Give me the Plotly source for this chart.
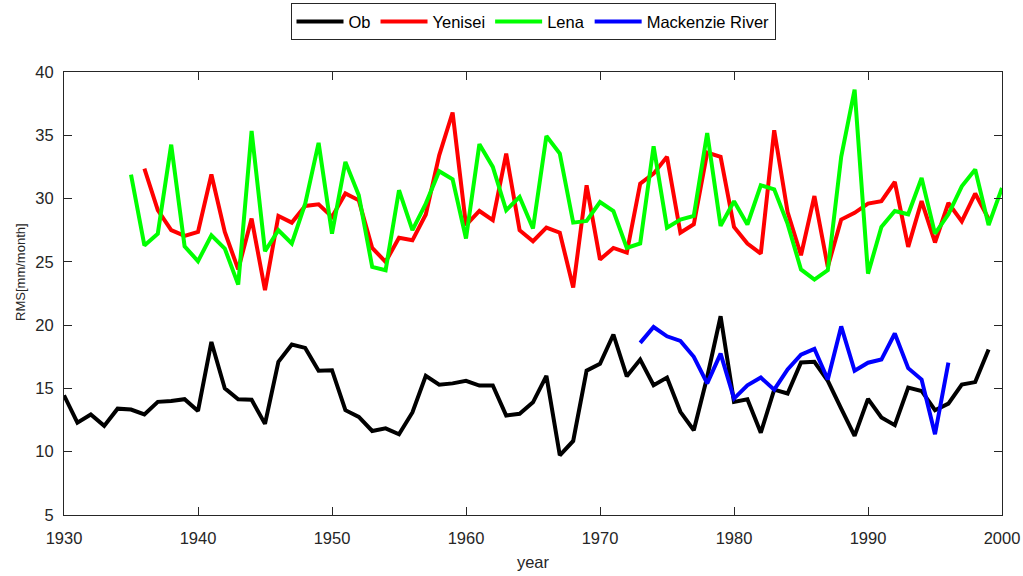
import plotly.graph_objects as go

years_ob = list(range(1930, 2000))
ob = [14.46, 12.3, 12.94, 12.04, 13.4, 13.33, 12.94, 13.94, 14.0, 14.15,
      13.22, 18.67, 15.0, 14.15, 14.1, 12.2, 17.1, 18.47, 18.2, 16.4,
      16.44, 13.28, 12.75, 11.64, 11.85, 11.38, 13.1, 15.99, 15.3, 15.4,
      15.6, 15.23, 15.23, 12.86, 13.0, 13.9, 15.99, 9.72, 10.85, 16.4,
      16.94, 19.26, 15.96, 17.28, 15.25, 15.86, 13.15, 11.7, 15.9, 20.7,
      13.94, 14.15, 11.5, 14.9, 14.6, 17.05, 17.1, 15.6, 13.4, 11.25,
      14.17, 12.7, 12.1, 15.07, 14.8, 13.28, 13.8, 15.3, 15.5, 18.07]

years_yen = list(range(1936, 2000))
yenisei = [32.37, 29.08, 27.5, 27.05, 27.36, 31.9, 27.36, 24.4, 28.42, 22.76,
           28.63, 28.1, 29.42, 29.55, 28.55, 30.4, 29.86, 26.1, 25.0, 26.9,
           26.7, 28.74, 33.42, 36.8, 27.9, 29.02, 28.3, 33.55, 27.5, 26.63,
           27.7, 27.3, 22.97, 31.05, 25.18, 26.1, 25.73, 31.18, 31.97, 33.3,
           27.3, 27.97, 33.63, 33.3, 27.76, 26.45, 25.65, 35.4, 28.94, 25.52,
           30.2, 24.6, 28.34, 28.87, 29.6, 29.8, 31.31, 26.18, 29.8, 26.53,
           29.65, 28.2, 30.4, 28.4]

years_lena = list(range(1935, 2001))
lena = [31.9, 26.3, 27.23, 34.26, 26.23, 25.05, 27.1, 26.05, 23.2, 35.34,
        25.84, 27.5, 26.45, 29.6, 34.4, 27.23, 32.9, 30.26, 24.6, 24.34,
        30.66, 27.5, 29.6, 32.16, 31.52, 26.85, 34.3, 32.5, 29.08, 30.13,
        27.63, 34.94, 33.55, 28.1, 28.23, 29.73, 29.02, 26.1, 26.45, 34.13,
        27.7, 28.34, 28.63, 35.18, 27.84, 29.79, 27.95, 31.05, 30.73, 28.0,
        24.4, 23.6, 24.34, 33.3, 38.6, 24.07, 27.76, 29.02, 28.76, 31.63,
        27.23, 28.76, 30.97, 32.3, 27.9, 30.84]

years_mac = list(range(1973, 1997))
mackenzie = [18.6, 19.85, 19.12, 18.75, 17.5, 15.4, 17.75, 14.2, 15.25, 15.86,
             14.9, 16.5, 17.66, 18.13, 15.7, 19.9, 16.4, 17.03, 17.28, 19.34,
             16.6, 15.7, 11.38, 17.03]

x_ticks = [1930, 1940, 1950, 1960, 1970, 1980, 1990, 2000]
y_ticks = [5, 10, 15, 20, 25, 30, 35, 40]

series = [
    ("Ob", years_ob, ob, "#000000"),
    ("Yenisei", years_yen, yenisei, "#ff0000"),
    ("Lena", years_lena, lena, "#00ff00"),
    ("Mackenzie River", years_mac, mackenzie, "#0000ff"),
]

fig = go.Figure()
for name, xs, ys, col in series:
    fig.add_trace(go.Scatter(x=xs, y=ys, mode="lines", name=name,
                             line=dict(color=col, width=4)))

font_family = "Liberation Sans, Arial, sans-serif"
axis_common = dict(
    showgrid=False, zeroline=False, showline=True, mirror="ticks",
    linecolor="#262626", linewidth=1, ticks="inside", ticklen=8,
    tickcolor="#262626", tickwidth=1, automargin=False,
    tickfont=dict(family=font_family, size=16.5, color="#262626"),
)

fig.update_layout(
    width=1023, height=576,
    margin=dict(l=64, r=21, t=72, b=61, autoexpand=False),
    plot_bgcolor="white", paper_bgcolor="white",
    font=dict(family=font_family, size=16.5, color="#262626"),
    xaxis=dict(range=[1930, 2000], tickvals=x_ticks, ticklabelstandoff=8,
               title=dict(text="year", font=dict(size=16.5), standoff=10),
               **axis_common),
    yaxis=dict(range=[5, 40], tickvals=y_ticks, ticklabelstandoff=6,
               **axis_common),
    legend=dict(orientation="h", x=0.5, xanchor="center", y=1.155, yanchor="top",
                bordercolor="#262626", borderwidth=1, bgcolor="white",
                font=dict(family=font_family, size=16.5, color="#000000"),
                itemwidth=47, tracegroupgap=0),
    showlegend=True,
    annotations=[dict(text="RMS[mm/month]", xref="paper", yref="paper",
                      x=-0.047, y=0.5485, xanchor="center", yanchor="middle",
                      textangle=-90, showarrow=False,
                      font=dict(family=font_family, size=13, color="#262626"))],
)

fig.write_html("out.html")
